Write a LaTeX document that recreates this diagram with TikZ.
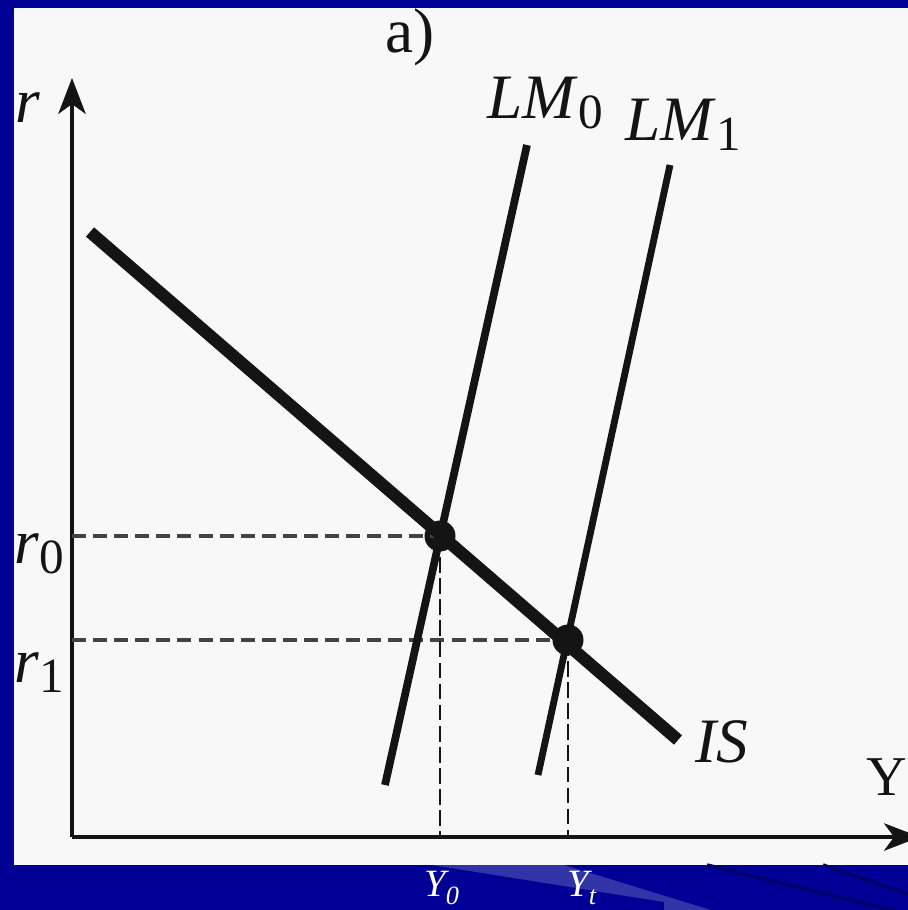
\documentclass[tikz,border=0pt]{standalone}
\usepackage{fontspec}
\setmainfont{Liberation Serif}
\usetikzlibrary{arrows.meta}
\definecolor{SlideBlue}{HTML}{000096}
\definecolor{BandBlue}{HTML}{3333A8}
\definecolor{StreakBlue}{HTML}{00006C}
\definecolor{PaperGray}{HTML}{F8F8F8}
\definecolor{InkGray}{HTML}{141414}
\newcommand{\curvelbl}[2]{\textit{#1}\raisebox{-0.35ex}{\fontsize{28}{28}\selectfont #2}}

\begin{document}
\begin{tikzpicture}[x=0.02cm,y=-0.02cm,
    lbl/.style={inner sep=0pt,anchor=base west,font=\fontsize{36}{40}\selectfont,text=InkGray},
    foot/.style={inner sep=0pt,anchor=base west,font=\fontsize{22}{24}\selectfont\itshape,text=white},
    axis/.style={line width=1.8pt,draw=InkGray,-{Stealth[length=0.72cm,width=0.55cm,inset=0.2cm]}},
    curve/.style={draw=InkGray,line cap=butt},
    guide/.style={draw=InkGray!80,line width=2.8pt,dash pattern=on 8pt off 4pt},
    drop/.style={draw=InkGray,line width=1.4pt,dash pattern=on 9pt off 3pt},
    eq/.style={circle,fill=InkGray,inner sep=0pt,minimum size=0.62cm}]

% slide and scanned page
\useasboundingbox (0,0) rectangle (908,910);
\fill[SlideBlue] (0,0) rectangle (908,910);
\fill[PaperGray] (14,8) rectangle (908,865);
\fill[BandBlue] (432,865) -- (564,865) -- (711,910) -- (664,910) -- (664,902) -- cycle;
\draw[StreakBlue,line width=2pt] (707,865) -- (908,914);
\draw[StreakBlue,line width=2pt] (823,865) -- (908,894);

% axes
\coordinate (O) at (72,837);
\coordinate (rtop) at (72,78);
\coordinate (yend) at (920,837);
\draw[axis] (O) -- (rtop);
\draw[axis] (O) -- (yend);

% curves
\coordinate (is-a) at (90,232);
\coordinate (is-b) at (678,740);
\coordinate (lm0-a) at (527,145);
\coordinate (lm0-b) at (385,785);
\coordinate (lm1-a) at (670,165);
\coordinate (lm1-b) at (538,775);

% equilibria
\node[eq] (E0) at (440,536) {};
\node[eq] (E1) at (568,640) {};

% guide lines
\draw[guide] (O |- E0) -- (E0.center);
\draw[guide] (O |- E1) -- (E1.center);
\draw[drop] (E0.center) -- (E0 |- O);
\draw[drop] (E1.center) -- (E1 |- O);

\draw[curve,line width=4.4pt] (lm0-a) -- (lm0-b);
\draw[curve,line width=3.9pt] (lm1-a) -- (lm1-b);
\draw[curve,line width=7pt] (is-a) -- (is-b);

% labels
\node[lbl] (title) at (385,52) {a)};
\node[lbl] (rlbl) at (15,122) {\textit{r}};
\node[lbl,font=\fontsize{32}{36}\selectfont] (ylbl) at (866,795) {Y};
\node[lbl] (lm0lbl) at (487,118) {\curvelbl{LM}{0}};
\node[lbl] (lm1lbl) at (625,140) {\curvelbl{LM}{1}};
\node[lbl] (islbl) at (695,762) {\textit{IS}};
\node[lbl] (r0lbl) at (14,563) {\curvelbl{r}{0}};
\node[lbl] (r1lbl) at (14,682) {\curvelbl{r}{1}};
\node[foot] (y0lbl) at (424,896) {Y\raisebox{-0.5ex}{\fontsize{15}{15}\selectfont 0}};
\node[foot] (ytlbl) at (567,896) {Y\raisebox{-0.5ex}{\fontsize{15}{15}\selectfont t}};
\end{tikzpicture}
\end{document}
